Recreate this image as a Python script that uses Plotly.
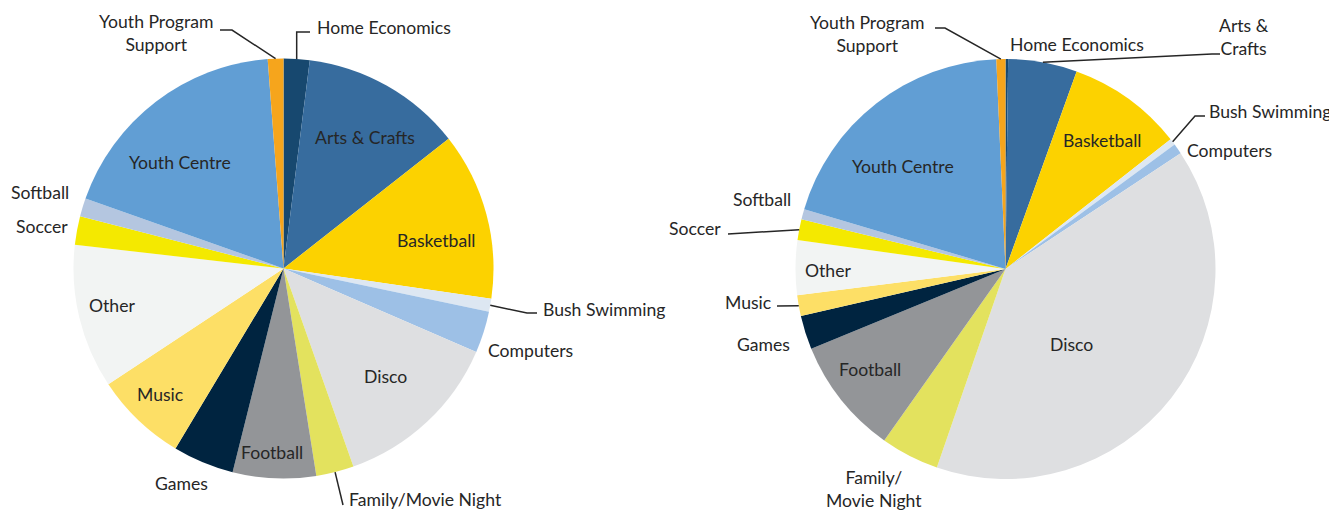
import math
import plotly.graph_objects as go

# the page body has an 8px margin, so the figure is made 8px smaller
# and screen pixel positions are shifted by that offset
OFF = 8
W, H = 1337 - OFF, 511 - OFF

activities = ['Home Economics', 'Arts & Crafts', 'Basketball', 'Bush Swimming', 'Computers',
              'Disco', 'Family/Movie Night', 'Football', 'Games', 'Music', 'Other',
              'Soccer', 'Softball', 'Youth Centre', 'Youth Program Support']

# share of participation (%)
left_values = [2.0, 12.4, 12.9, 1.0, 3.2, 13.1, 2.9, 6.4, 4.7, 7.1, 11.1, 2.2, 1.4, 18.4, 1.2]
right_values = [0.2, 5.3, 8.9, 0.5, 0.8, 39.6, 4.5, 9.0, 2.6, 1.6, 4.2, 1.6, 0.8, 19.7, 0.7]

colors = ['#17486F', '#376C9E', '#FCD200', '#DDE7F2', '#9DC0E6', '#DEDFE1', '#E3E25E',
          '#939598', '#002440', '#FDDF66', '#F2F4F3', '#F4E900', '#B4C6E0', '#619ED4', '#F6A51C']

FONT = 'Lato'
TXT = '#262626'

# pie geometry in screen pixels (centre x, centre y, radius)
pies = {'left': (283.5, 268.5, 210), 'right': (1005.5, 269, 210)}


def px(x):
    return (x - OFF) / W


def py(y):
    return 1 - (y - OFF) / H


def mid_point(values, name, key):
    cx, cy, r = pies[key]
    i = activities.index(name)
    start = sum(values[:i]) / sum(values) * 360
    ang = math.radians(start + values[i] / sum(values) * 180)
    return cx + r * math.sin(ang), cy - r * math.cos(ang)


fig = go.Figure()
for key, vals in (('left', left_values), ('right', right_values)):
    cx, cy, r = pies[key]
    fig.add_trace(go.Pie(
        labels=activities, values=vals, sort=False, direction='clockwise', rotation=0,
        marker=dict(colors=colors, line=dict(width=0)),
        textinfo='none', hoverinfo='label+percent', showlegend=False,
        domain=dict(x=[px(cx - r), px(cx + r)], y=[py(cy + r), py(cy - r)])
    ))

# label positions (screen pixels, anchor)
left_labels = [
    ('Youth Program<br>Support', 156, 33, 'center'),
    ('Home Economics', 315, 27, 'left'),
    ('Arts & Crafts', 365, 137, 'center'),
    ('Basketball', 436, 240, 'center'),
    ('Bush Swimming', 541, 309, 'left'),
    ('Computers', 530, 350, 'center'),
    ('Disco', 385, 376, 'center'),
    ('Family/Movie Night', 347, 499, 'left'),
    ('Football', 272, 452, 'center'),
    ('Games', 181, 483, 'center'),
    ('Music', 160, 394, 'center'),
    ('Other', 112, 305, 'center'),
    ('Soccer', 42, 226, 'center'),
    ('Softball', 40, 192, 'center'),
    ('Youth Centre', 180, 162, 'center'),
]
right_labels = [
    ('Youth Program<br>Support', 867, 34, 'center'),
    ('Home Economics', 1077, 44, 'center'),
    ('Arts &<br>Crafts', 1244, 37, 'center'),
    ('Basketball', 1102, 141, 'center'),
    ('Bush Swimming', 1333, 111, 'right'),
    ('Computers', 1185, 150, 'left'),
    ('Disco', 1071, 344, 'center'),
    ('Family/<br>Movie Night', 874, 489, 'center'),
    ('Football', 870, 369, 'center'),
    ('Games', 763, 344, 'center'),
    ('Music', 748, 302, 'center'),
    ('Other', 828, 270, 'center'),
    ('Soccer', 695, 229, 'center'),
    ('Softball', 762, 199, 'center'),
    ('Youth Centre', 903, 166, 'center'),
]

for text, x, y, anchor in left_labels + right_labels:
    fig.add_annotation(x=px(x), y=py(y), xref='paper', yref='paper', text=text,
                       showarrow=False, xanchor=anchor, yanchor='middle',
                       font=dict(family=FONT, size=17.6, color=TXT))

# leader lines: start on slice edge, then elbow points towards the label
leaders = [
    ('left', left_values, 'Youth Program Support', [(232, 30), (220, 30)]),
    ('left', left_values, 'Home Economics', [(None, 32), (310, 32)]),
    ('left', left_values, 'Bush Swimming', [(527, 313), (537, 313)]),
    ('left', left_values, 'Family/Movie Night', [(343, 505)]),
    ('right', right_values, 'Youth Program Support', [(945, 28), (935, 28)]),
    ('right', right_values, 'Arts & Crafts', [(1212, 54), (1220, 54)]),
    ('right', right_values, 'Bush Swimming', [(1195, 116), (1205, 116)]),
    ('right', right_values, 'Music', [(777, 306)]),
    ('right', right_values, 'Soccer', [(728, 234)]),
]
for key, vals, name, pts in leaders:
    x0, y0 = mid_point(vals, name, key)
    path = f'M {px(x0)} {py(y0)}'
    for x, y in pts:
        x = x0 if x is None else x
        path += f' L {px(x)} {py(y)}'
    fig.add_shape(type='path', path=path, xref='paper', yref='paper',
                  line=dict(color=TXT, width=1.5))

fig.update_layout(
    width=W, height=H,
    margin=dict(l=0, r=0, t=0, b=0),
    paper_bgcolor='white', plot_bgcolor='white',
    font=dict(family=FONT, color=TXT)
)

fig.write_html('out.html')
